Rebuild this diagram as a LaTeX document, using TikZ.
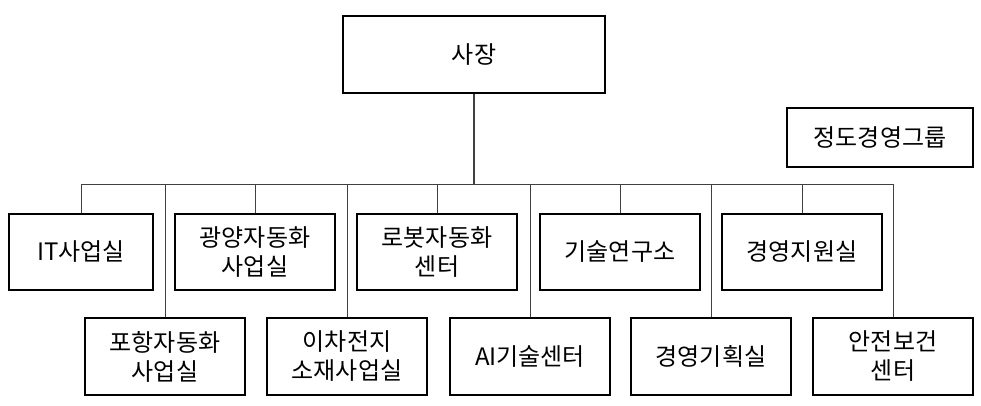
\documentclass[tikz,border=0pt]{standalone}
\usepackage{fontspec}
\setmainfont{Noto Sans CJK KR}
\begin{document}
\begin{tikzpicture}[x=1pt,y=-1pt,
  box/.style={draw=black,line width=1.4pt,align=center,inner sep=0pt,font=\fontsize{24}{29}\selectfont},
  thin/.style={draw=black!75,line width=0.8pt},
  thick/.style={draw=black!75,line width=1.6pt}]
\useasboundingbox (0,0) rectangle (981,405);
\node[box,minimum width=262,minimum height=77] (ceo) at (474,54.5) {사장};
\node[box,minimum width=186,minimum height=59] (eth) at (880,137.5) {정도경영그룹};
\foreach \n/\x/\w/\t in {it/81/144/IT사업실, gy/255/160/광양자동화\\사업실, rb/437/160/로봇자동화\\센터, rd/620/160/기술연구소, ms/802/160/경영지원실}
  \node[box,minimum width=\w,minimum height=76] (\n) at (\x,252) {\t};
\foreach \n/\x/\t in {ph/165/포항자동화\\사업실, bt/347/이차전지\\소재사업실, ai/530/AI기술센터, mp/711/경영기획실, sf/893/안전보건\\센터}
  \node[box,minimum width=160,minimum height=77] (\n) at (\x,356.5) {\t};
\coordinate (hl) at (81,184);
\coordinate (hr) at (893,184);
\draw[thick] (ceo.south) -- (474,184);
\draw[thin] (hl) -- (hr);
\foreach \n in {it,gy,rb,rd,ms,ph,bt,ai,mp,sf}
  \draw[thin] (\n.north) -- (\n.north |- hl);
\end{tikzpicture}
\end{document}
